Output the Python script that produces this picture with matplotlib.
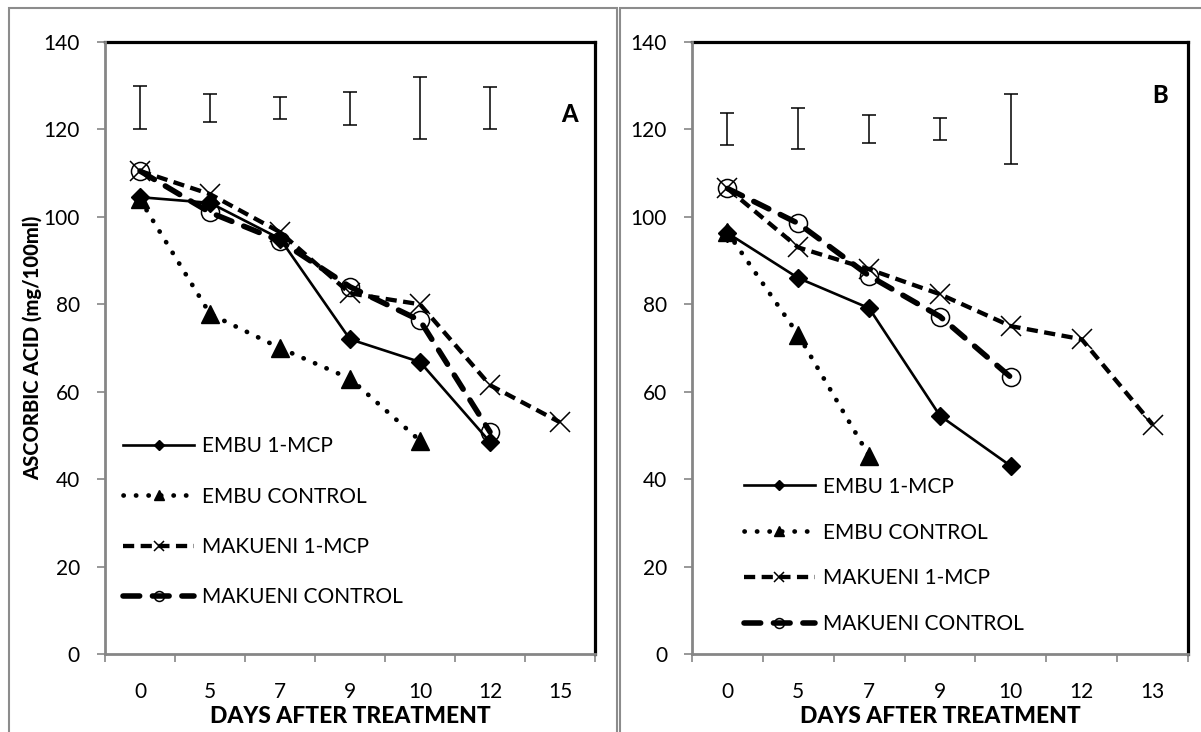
import numpy as np
import matplotlib
matplotlib.use('Agg')
import matplotlib.pyplot as plt
from matplotlib.patches import Rectangle

plt.rcParams['font.family'] = ['Lato', 'DejaVu Sans']

# Panel A
days_a = ['0', '5', '7', '9', '10', '12', '15']
embu_mcp_a = [104.5, 103.2, 95.0, 72.0, 66.8, 48.5]
embu_ctrl_a = [104.0, 77.8, 70.0, 63.0, 48.8]
mak_mcp_a = [110.5, 105.2, 96.5, 82.5, 80.0, 61.5, 53.0]
mak_ctrl_a = [110.5, 101.0, 94.5, 84.0, 76.3, 50.8]
lsd_lo_a = [120.0, 121.6, 122.3, 121.1, 117.7, 120.0]
lsd_hi_a = [130.0, 128.2, 127.5, 128.6, 132.0, 129.7]

# Panel B
days_b = ['0', '5', '7', '9', '10', '12', '13']
embu_mcp_b = [96.3, 86.0, 79.1, 54.5, 43.0]
embu_ctrl_b = [96.5, 73.0, 45.3]
mak_mcp_b = [106.5, 93.0, 88.0, 82.3, 75.0, 72.0, 52.5]
mak_ctrl_b = [106.5, 98.5, 86.5, 77.2, 63.3]
lsd_lo_b = [116.4, 115.5, 116.8, 117.6, 112.0]
lsd_hi_b = [123.7, 124.8, 123.3, 122.6, 128.1]

labels = ['EMBU 1-MCP', 'EMBU CONTROL', 'MAKUENI 1-MCP', 'MAKUENI CONTROL']
axis_grey = '#868686'

styles = [
    dict(ls='-', lw=1.9, marker='D', ms=9.5),
    dict(ls=(0, (0.05, 2.6)), lw=3.4, marker='^', ms=13.5, dash_capstyle='round'),
    dict(ls=(0, (2.6, 1.5)), lw=3.1, marker='x', ms=14, mew=1.1, dash_capstyle='butt'),
    dict(ls=(0, (3.0, 2.3)), lw=4.0, marker='o', ms=13, mew=1.1, mfc='none',
         dash_capstyle='round'),
]


def draw_panel(ax, days, series, lo, hi, tag, tag_pos, leg_pos, leg_spacing):
    for vals, lab, st in zip(series, labels, styles):
        x = np.arange(len(vals))
        ax.plot(x, vals, color='black', label=lab, **st)

    lo = np.array(lo)
    hi = np.array(hi)
    xe = np.arange(len(lo))
    ax.errorbar(xe, (lo + hi) / 2, yerr=(hi - lo) / 2, fmt='none', ecolor='black',
                elinewidth=1.1, capsize=5, capthick=1.1)

    ax.set_xlim(-0.5, len(days) - 0.5)
    ax.set_ylim(0, 140)
    ax.set_yticks(np.arange(0, 141, 20))
    ax.set_xticks(np.arange(len(days)))
    ax.set_xticklabels(days)
    ax.set_xticks(np.arange(-0.5, len(days), 1), minor=True)

    ax.tick_params(axis='x', which='major', length=0, pad=20, labelsize=15)
    ax.tick_params(axis='x', which='minor', length=6, width=1.2, color=axis_grey,
                   direction='out')
    ax.tick_params(axis='y', which='major', length=6, width=1.2, color=axis_grey,
                   direction='out', pad=12, labelsize=15)

    for side in ['top', 'right']:
        ax.spines[side].set_color('black')
        ax.spines[side].set_linewidth(2.3)
    for side in ['left', 'bottom']:
        ax.spines[side].set_color(axis_grey)
        ax.spines[side].set_linewidth(2.0)
        ax.spines[side].set_zorder(5)

    ax.set_xlabel('DAYS AFTER TREATMENT', fontsize=16.5, fontweight='black', labelpad=3)
    ax.text(tag_pos[0], tag_pos[1], tag, transform=ax.transAxes, fontsize=17,
            fontweight='black', ha='center', va='center')

    ax.legend(loc='center left', bbox_to_anchor=leg_pos, frameon=False, fontsize=15,
              numpoints=1, markerscale=0.55, handlelength=3.4, handletextpad=0.4,
              labelspacing=leg_spacing, borderpad=0, borderaxespad=0)


fig = plt.figure(figsize=(12.01, 7.32), dpi=100)

# grey frames around the two panels
fig.patches.append(Rectangle((9 / 1201, -0.05), 608 / 1201, 1.05 - 8 / 732,
                             transform=fig.transFigure, fill=False,
                             edgecolor='#8c8c8c', lw=1.5))
fig.patches.append(Rectangle((620 / 1201, -0.05), 0.6, 1.05 - 8 / 732,
                             transform=fig.transFigure, fill=False,
                             edgecolor='#8c8c8c', lw=1.5))

ax1 = fig.add_axes([105 / 1201, 78 / 732, 490 / 1201, 612 / 732])
ax2 = fig.add_axes([692 / 1201, 78 / 732, 496 / 1201, 612 / 732])

draw_panel(ax1, days_a, [embu_mcp_a, embu_ctrl_a, mak_mcp_a, mak_ctrl_a],
           lsd_lo_a, lsd_hi_a, 'A', (0.949, 0.881), (0.037, 0.216), 1.45)
draw_panel(ax2, days_b, [embu_mcp_b, embu_ctrl_b, mak_mcp_b, mak_ctrl_b],
           lsd_lo_b, lsd_hi_b, 'B', (0.944, 0.913), (0.105, 0.161), 1.24)

ax1.set_ylabel('ASCORBIC ACID (mg/100ml)', fontsize=14.5, fontweight='black', labelpad=1)

fig.savefig('out.png', dpi=100, facecolor='white')
